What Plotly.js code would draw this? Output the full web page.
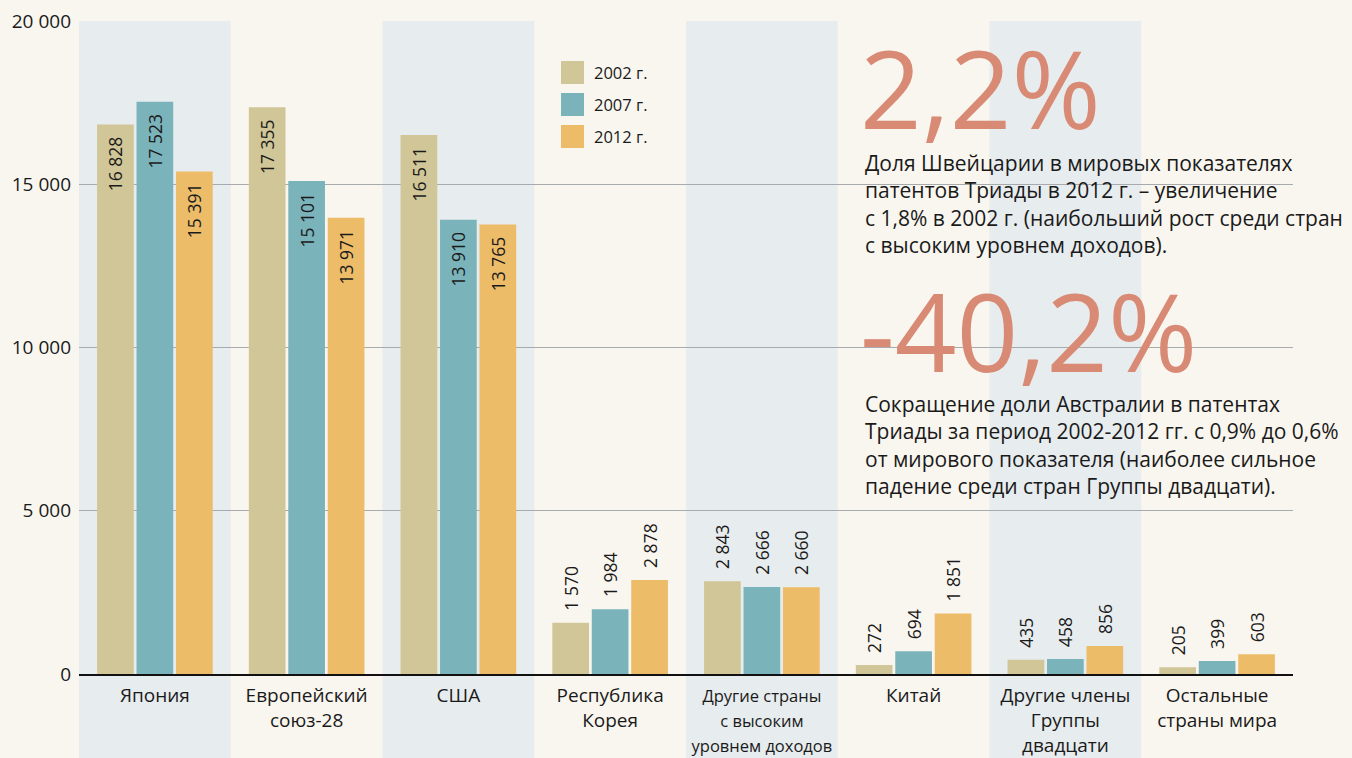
<!DOCTYPE html>
<html><head><meta charset="utf-8">
<script src="https://cdn.plot.ly/plotly-3.0.1.min.js"></script>
<style>html,body{margin:0;padding:0;background:#f9f6ef;}</style>
</head><body><div id="chart" style="width:1352px;height:758px;"></div>
<script>
const categories = [
  'Япония',
  'Европейский<br>союз-28',
  'США',
  'Республика<br>Корея',
  '<span style="font-size:16.5px">Другие страны<br>с высоким<br>уровнем доходов</span>',
  'Китай',
  'Другие члены<br>Группы<br>двадцати',
  'Остальные<br>страны мира'
];
const seriesNames = ['2002 г.', '2007 г.', '2012 г.'];
const values2002 = [16828, 17355, 16511, 1570, 2843, 272, 435, 205];
const values2007 = [17523, 15101, 13910, 1984, 2666, 694, 458, 399];
const values2012 = [15391, 13971, 13765, 2878, 2660, 1851, 856, 603];
const yTicks = [0, 5000, 10000, 15000, 20000];
const bigNumber1 = '2,2%';
const note1 = 'Доля Швейцарии в мировых показателях<br>патентов Триады в 2012 г. – увеличение<br>с 1,8% в 2002 г. (наибольший рост среди стран<br>с высоким уровнем доходов).';
const bigNumber2 = '-40,2%';
const note2 = 'Сокращение доли Австралии в патентах<br>Триады за период 2002-2012 гг. с 0,9% до 0,6%<br>от мирового показателя (наиболее сильное<br>падение среди стран Группы двадцати).';

const colors = ['#d1c697', '#7bb3bb', '#ecbc69'];
const FONT = 'Open Sans, Noto Sans, sans-serif';
const W = 1352, H = 758;
const M = {l: 79, r: 59, t: 21, b: 84};
const PW = W - M.l - M.r, PH = H - M.t - M.b;
const px = x => (x - M.l) / PW;
const py = y => (H - M.b - y) / PH;

const allSeries = [values2002, values2007, values2012];
const labelFont = {family: FONT, size: 17.5, color: '#1a1a1a'};
const traces = allSeries.map((vals, i) => ({
  type: 'bar',
  name: seriesNames[i],
  x: categories,
  y: vals,
  marker: {color: colors[i]},
  texttemplate: vals.map(v => v > 10000 ? '%{y:,d}\u00a0\u00a0' : '\u00a0\u00a0%{y:,d}'),
  textposition: vals.map(v => v > 10000 ? 'inside' : 'outside'),
  insidetextanchor: 'end',
  textangle: -90,
  constraintext: 'none',
  cliponaxis: false,
  textfont: labelFont,
  insidetextfont: labelFont,
  outsidetextfont: labelFont,
  hoverinfo: 'skip',
  showlegend: false
}));

const shapes = [];
categories.forEach((c, i) => {
  if (i % 2 === 0) {
    shapes.push({type: 'rect', layer: 'below', xref: 'x', yref: 'paper',
      x0: i - 0.5, x1: i + 0.5, y0: -0.2, y1: 1,
      fillcolor: '#e7ecee', line: {width: 0}});
  }
});

const annotations = [];
// legend
seriesNames.forEach((n, i) => {
  const top = 61 + i * 32;
  shapes.push({type: 'rect', xref: 'paper', yref: 'paper',
    x0: px(561), x1: px(584), y0: py(top + 23), y1: py(top),
    fillcolor: colors[i], line: {width: 0}});
  annotations.push({xref: 'paper', yref: 'paper', x: px(592), y: py(top + 11.5),
    xanchor: 'left', yanchor: 'middle', showarrow: false, text: n,
    font: {family: FONT, size: 16.5, color: '#1a1a1a'}});
});

annotations.push({xref: 'paper', yref: 'paper', x: px(858), y: py(88),
  xanchor: 'left', yanchor: 'middle', showarrow: false, text: bigNumber1,
  font: {family: FONT, size: 108, color: '#d98a74', weight: 400}});
annotations.push({xref: 'paper', yref: 'paper', x: px(863), y: py(204),
  xanchor: 'left', yanchor: 'middle', align: 'left', showarrow: false, text: note1,
  font: {family: FONT, size: 21, color: '#1a1a1a'}});
annotations.push({xref: 'paper', yref: 'paper', x: px(858), y: py(330),
  xanchor: 'left', yanchor: 'middle', showarrow: false, text: bigNumber2,
  font: {family: FONT, size: 108, color: '#d98a74', weight: 400}});
annotations.push({xref: 'paper', yref: 'paper', x: px(863), y: py(445),
  xanchor: 'left', yanchor: 'middle', align: 'left', showarrow: false, text: note2,
  font: {family: FONT, size: 21, color: '#1a1a1a'}});

const layout = {
  width: W, height: H,
  margin: M,
  paper_bgcolor: '#f9f6ef',
  plot_bgcolor: 'rgba(0,0,0,0)',
  separators: ', ',
  barmode: 'group',
  bargap: 0.22,
  bargroupgap: 0.07,
  showlegend: false,
  font: {family: FONT, color: '#1a1a1a'},
  xaxis: {
    type: 'category',
    showgrid: false, zeroline: false,
    showline: true, linecolor: '#111', linewidth: 1.5,
    ticks: '', tickfont: {family: FONT, size: 19, color: '#1a1a1a'},
    ticklabelstandoff: 4,
    fixedrange: true
  },
  yaxis: {
    range: [0, 20000],
    tickvals: yTicks,
    tickformat: ',d',
    showgrid: true, gridcolor: '#a7abae', gridwidth: 1,
    zeroline: false, showline: false,
    ticks: '', tickfont: {family: FONT, size: 19, color: '#1a1a1a'},
    ticklabelstandoff: 7,
    fixedrange: true
  },
  shapes: shapes,
  annotations: annotations
};

Plotly.newPlot('chart', traces, layout, {displayModeBar: false, staticPlot: true});
</script></body></html>
